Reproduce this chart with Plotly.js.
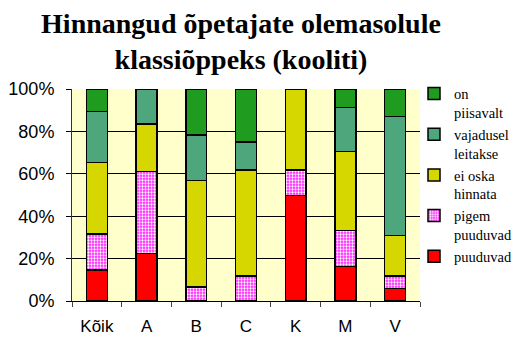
<!DOCTYPE html>
<html>
<head>
<meta charset="utf-8">
<script src="https://cdn.plot.ly/plotly-3.0.1.min.js"></script>
<style>
  body { margin: 0; background: #fff; }
  #chart { width: 528px; height: 340px; }
</style>
</head>
<body>
<div id="chart"></div>
<script>
// categories (schools / total)
var categories = ["Kõik", "A", "B", "C", "K", "M", "V"];

// shares in percent, bottom to top of the stack
var puuduvad      = [14.6, 22.5,  0.0,  0.0, 49.8, 16.2,  5.8];
var pigemPuuduvad = [17.1, 38.6,  6.5, 11.8, 12.1, 17.0,  6.0];
var eiOska        = [33.7, 22.5, 50.4, 50.1, 38.1, 37.4, 19.1];
var vajadusel     = [24.0, 16.4, 21.5, 13.1,  0.0, 20.7, 56.2];
var onPiisavalt   = [10.6,  0.0, 21.6, 25.0,  0.0,  8.7, 12.9];

var seriesNames = ["puuduvad", "pigem<br>puuduvad", "ei oska<br>hinnata", "vajadusel<br>leitakse", "on<br>piisavalt"];
var yTicks = [0, 20, 40, 60, 80, 100];
var yTickText = ["0%", "20%", "40%", "60%", "80%", "100%"];

var outline = { color: "#000", width: 1.5 };

function barTrace(name, vals, color, pattern) {
  var m = { color: color, line: outline };
  if (pattern) m.pattern = pattern;
  return {
    type: "bar",
    x: categories,
    y: vals,
    name: name,
    marker: m,
    hoverinfo: "x+y+name"
  };
}

var data = [
  barTrace(seriesNames[0], puuduvad, "#ff0000"),
  barTrace(seriesNames[1], pigemPuuduvad, "#ff44ff",
    { shape: ".", fgcolor: "#ffffff", bgcolor: "#ff22ff", size: 3, solidity: 0.45 }),
  barTrace(seriesNames[2], eiOska, "#d6d600"),
  barTrace(seriesNames[3], vajadusel, "#4da67c"),
  barTrace(seriesNames[4], onPiisavalt, "#1f9b1f")
];

var layout = {
  width: 528,
  height: 340,
  barmode: "stack",
  bargap: 0.58,
  paper_bgcolor: "#ffffff",
  plot_bgcolor: "#ffffcc",
  margin: { l: 72, r: 107, t: 89, b: 39 },
  title: {
    text: "<b>Hinnangud õpetajate olemasolule<br>klassiõppeks (kooliti)</b>",
    font: { family: "Liberation Serif, Times New Roman, serif", size: 28, color: "#000" },
    x: 241 / 528,
    xanchor: "center",
    y: 0.903,
    yanchor: "top"
  },
  xaxis: {
    type: "category",
    showline: true,
    linecolor: "#000",
    linewidth: 1,
    ticks: "outside",
    tickson: "boundaries",
    ticklen: 5,
    tickcolor: "#444",
    ticklabelstandoff: 10,
    tickfont: { family: "Liberation Sans, Arial, sans-serif", size: 17, color: "#000" },
    fixedrange: true
  },
  yaxis: {
    range: [0, 100],
    tickmode: "array",
    tickvals: yTicks,
    ticktext: yTickText,
    showline: true,
    linecolor: "#333",
    linewidth: 1,
    ticks: "outside",
    ticklen: 5,
    tickcolor: "#000",
    ticklabelstandoff: 8,
    showgrid: true,
    gridcolor: "#000",
    gridwidth: 1,
    zeroline: false,
    tickfont: { family: "Liberation Sans, Arial, sans-serif", size: 18, color: "#000" },
    fixedrange: true
  },
  legend: {
    x: (414 - 72) / (528 - 72 - 107),
    xanchor: "left",
    y: 1.054,
    yanchor: "top",
    maxheight: 320,
    traceorder: "reversed",
    valign: "top",
    bgcolor: "rgba(0,0,0,0)",
    font: { family: "Liberation Serif", size: 14.5, color: "#000" }
  },
  showlegend: true
};

Plotly.newPlot("chart", data, layout, { displayModeBar: false });
</script>
</body>
</html>
